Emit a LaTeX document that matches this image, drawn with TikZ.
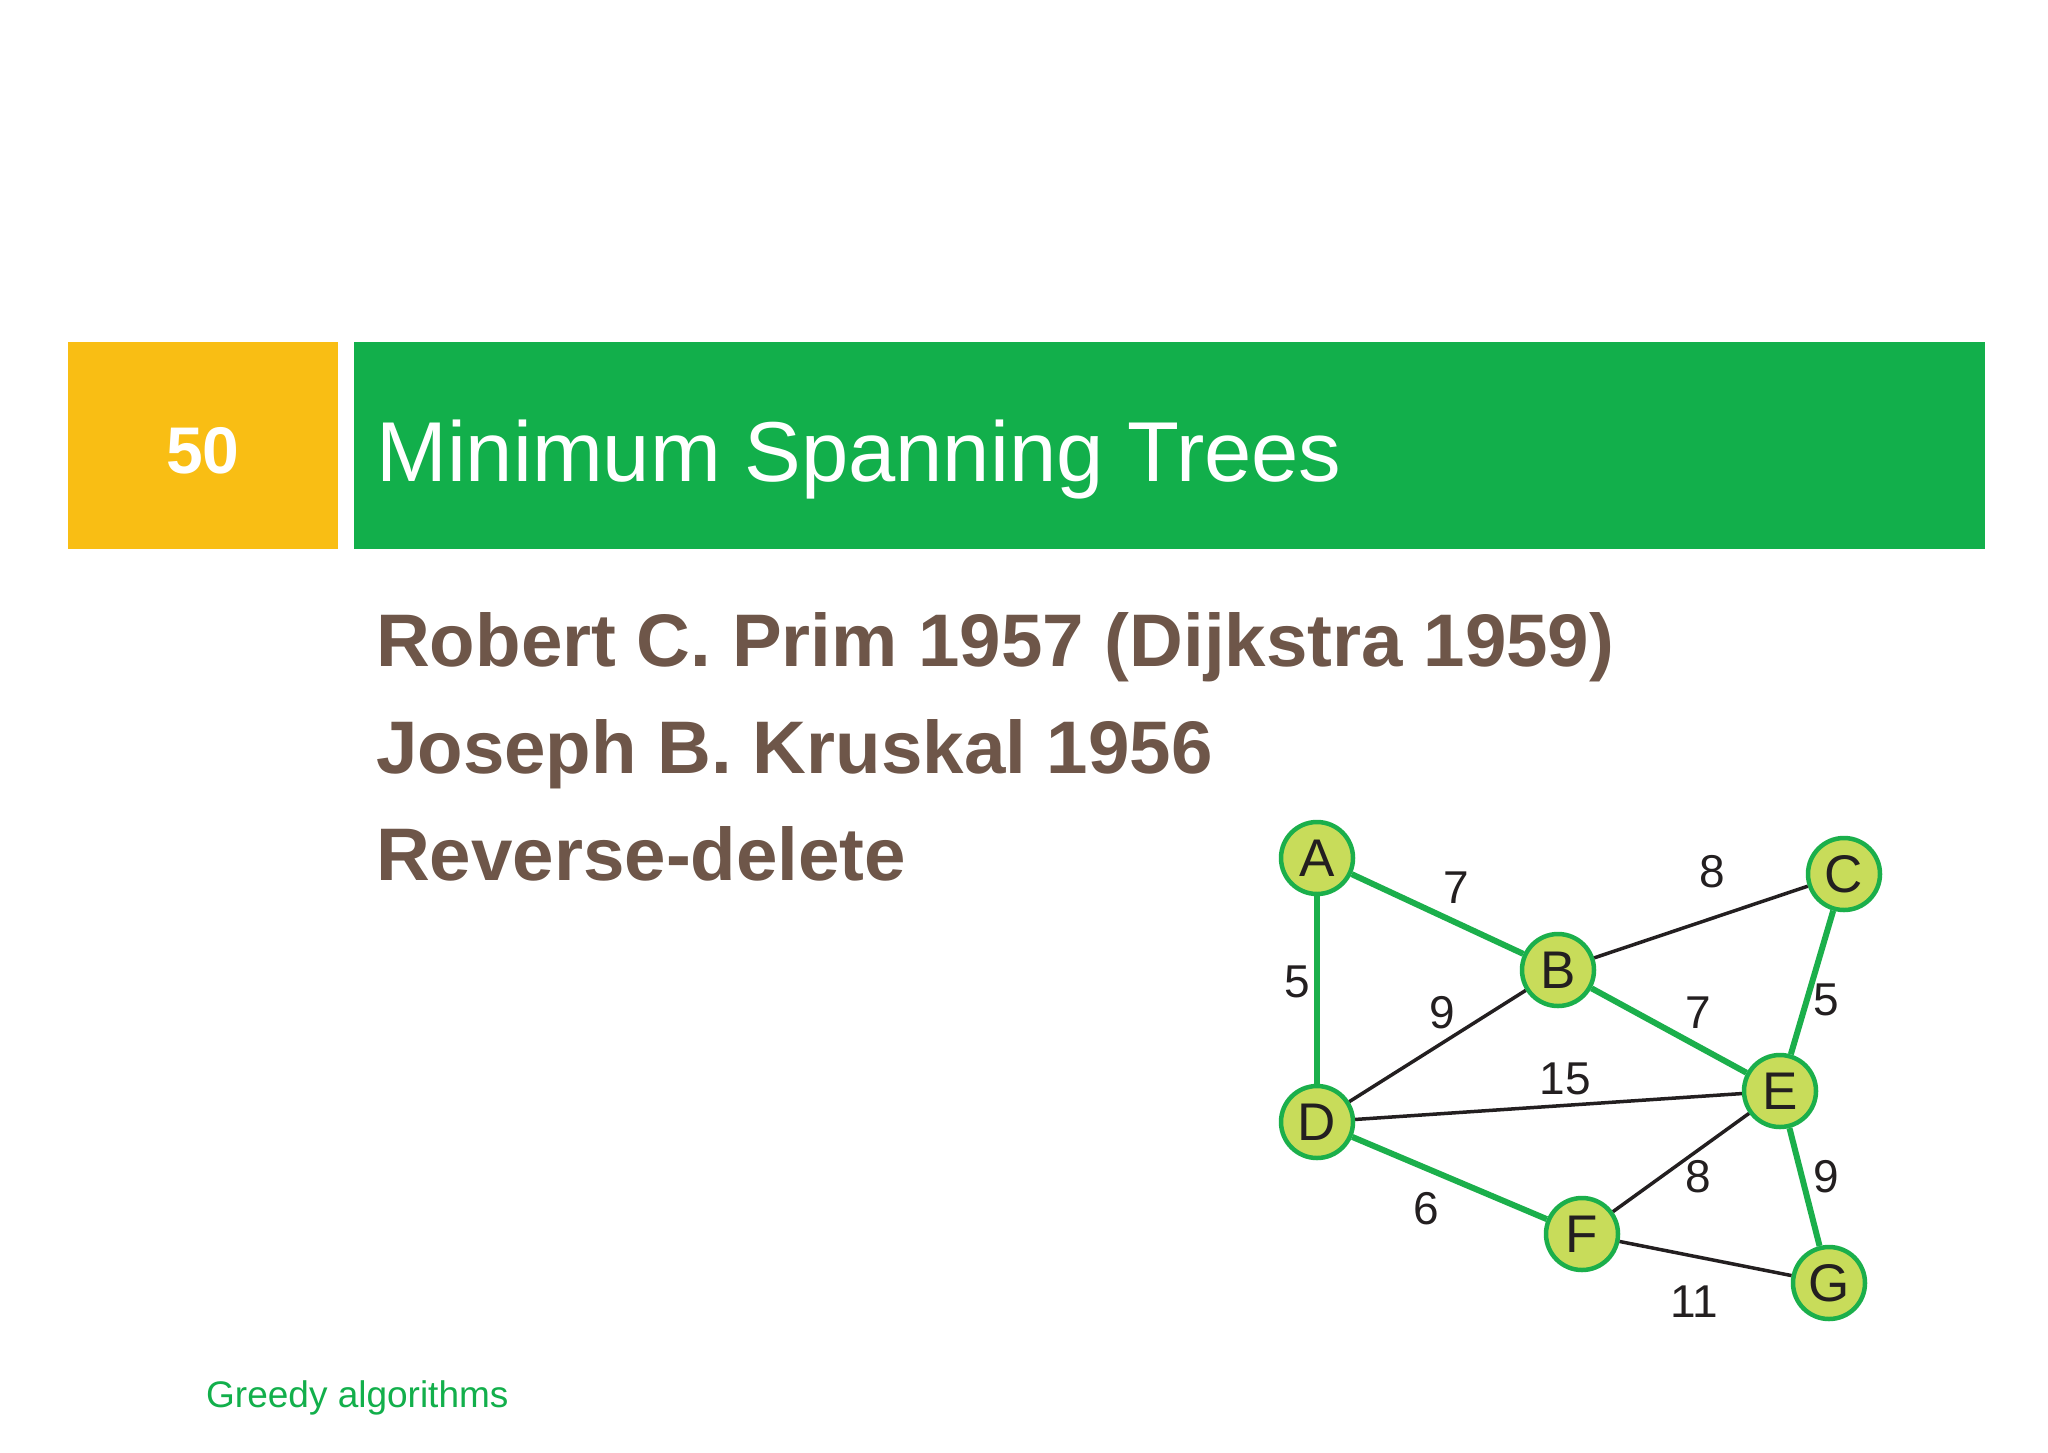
\documentclass[tikz,border=0pt]{standalone}
\usepackage{fontspec}
\setmainfont{Liberation Sans}
\definecolor{hdrgreen}{HTML}{12AF4B}
\definecolor{hdryellow}{HTML}{F9BE14}
\definecolor{txtbrown}{HTML}{6E5649}
\definecolor{nodefill}{HTML}{C8DC5A}
\definecolor{edgegreen}{HTML}{1BAF4B}
\definecolor{edgeblack}{HTML}{231F20}
\tikzset{
  vtx/.style={circle, draw=edgegreen, fill=nodefill, line width=4.5pt, minimum size=72pt, inner sep=0pt,
    font=\fontsize{53}{53}\selectfont, text=edgeblack},
  mst/.style={draw=edgegreen, line width=6pt},
  other/.style={draw=edgeblack, line width=3.5pt},
  wlab/.style={font=\fontsize{46}{46}\selectfont, text=edgeblack, inner sep=0pt},
  brownline/.style={anchor=base west, inner sep=0pt, text=txtbrown, font=\fontsize{74.5}{74.5}\selectfont\bfseries},
}
\begin{document}
\begin{tikzpicture}[x=1pt,y=-1pt]
\useasboundingbox (0,0) rectangle (2048,1452);
\fill[white] (0,0) rectangle (2048,1452);
% header
\fill[hdryellow] (68,342) rectangle (338,549);
\fill[hdrgreen] (354,342) rectangle (1985,549);
\node[anchor=base, inner sep=0pt, text=white, font=\fontsize{66}{66}\selectfont\bfseries] (num) at (203,473) {50};
\node[anchor=base west, inner sep=0pt, text=white, font=\fontsize{85}{85}\selectfont] (title) at (376,481) {Minimum Spanning Trees};
% bullet lines
\node[brownline] (l1) at (376,666) {Robert C. Prim 1957 (Dijkstra 1959)};
\node[brownline] (l2) at (376,773) {Joseph B. Kruskal 1956};
\node[brownline] (l3) at (376,880) {Reverse-delete};
% footer
\node[anchor=base west, inner sep=0pt, text=hdrgreen, font=\fontsize{37}{37}\selectfont] (foot) at (206,1407) {Greedy algorithms};
% graph nodes
\node[vtx] (A) at (1317,858) {A};
\node[vtx] (B) at (1558,970) {B};
\node[vtx] (C) at (1844,874) {C};
\node[vtx] (D) at (1317,1122) {D};
\node[vtx] (E) at (1780,1091) {E};
\node[vtx] (F) at (1582,1234) {F};
\node[vtx] (G) at (1829,1283) {G};
% edges
\path[other] (B) -- (C);
\path[other] (B) -- (D);
\path[other] (D) -- (E);
\path[other] (E) -- (F);
\path[other] (F) -- (G);
\path[mst] (A) -- (B);
\path[mst] (A) -- (D);
\path[mst] (B) -- (E);
\path[mst] (C) -- (E);
\path[mst] (D) -- (F);
\path[mst] (E) -- (G);
% weights
\node[wlab] (wAB) at (1456,888) {7};
\node[wlab] (wBC) at (1712,872) {8};
\node[wlab] (wAD) at (1297,982) {5};
\node[wlab] (wBD) at (1442,1013) {9};
\node[wlab] (wBE) at (1698,1013) {7};
\node[wlab] (wCE) at (1826,1000) {5};
\node[wlab] (wDE) at (1565,1079) {15};
\node[wlab] (wEF) at (1698,1177) {8};
\node[wlab] (wEG) at (1826,1177) {9};
\node[wlab] (wDF) at (1426,1209) {6};
\node[wlab] (wFG) at (1694,1302) {11};
\end{tikzpicture}
\end{document}
